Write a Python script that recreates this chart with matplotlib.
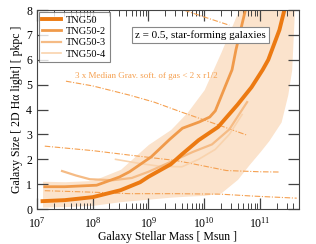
import numpy as np
import matplotlib
matplotlib.use('Agg')
import matplotlib.pyplot as plt

plt.rcParams['font.family'] = ['Liberation Serif', 'DejaVu Serif']
plt.rcParams['mathtext.fontset'] = 'stix'

# log10 stellar mass -> size [pkpc]
m_tng50 = [7.1, 7.5, 8.0, 8.5, 8.85, 9.0, 9.4, 9.6, 9.9, 10.25, 10.6, 10.85, 11.05, 11.15, 11.35, 11.45]
r_tng50 = [0.32, 0.36, 0.48, 0.76, 1.08, 1.3, 1.8, 2.2, 2.77, 3.3, 4.2, 4.9, 5.6, 6.0, 7.2, 8.1]

m_tng50_2 = [7.14, 7.5, 8.07, 8.48, 8.66, 9.05, 9.38, 9.61, 9.91, 10.1, 10.2, 10.39, 10.5, 10.57, 10.75]
r_tng50_2 = [0.9, 0.9, 0.96, 1.29, 1.5, 2.1, 2.8, 3.25, 3.5, 3.7, 3.95, 5.0, 5.6, 6.4, 8.1]

m_tng50_3 = [7.45, 7.7, 7.95, 8.36, 8.7, 9.0, 9.4, 9.8, 10.14, 10.45, 10.77]
r_tng50_3 = [1.53, 1.35, 1.2, 1.16, 1.25, 1.5, 1.9, 2.3, 2.6, 3.2, 4.3]

m_tng50_4 = [8.41, 8.8, 9.2, 9.6, 9.9, 10.2, 10.45, 10.68]
r_tng50_4 = [2.0, 1.85, 1.72, 1.7, 2.0, 2.4, 3.0, 3.8]

# 1-sigma band of TNG50
m_band = [7.1, 7.5, 8.0, 8.5, 9.0, 9.4, 9.7, 10.0, 10.3, 10.6, 10.8, 11.0, 11.16, 11.38, 11.5, 11.57, 11.62]
r_band_lo = [0.08, 0.1, 0.15, 0.3, 0.4, 0.48, 0.52, 0.55, 0.65, 1.2, 1.77, 2.3, 2.75, 3.5, 4.6, 5.6, 8.0]
r_band_hi = [1.12, 1.1, 1.15, 1.6, 2.6, 3.2, 3.9, 4.8, 6.3, 7.9, 9.0, 9.0, 9.0, 9.0, 9.0, 9.0, 9.0]

# softening lines
m_soft1 = [7.52, 8.0, 8.66, 9.1, 9.59, 10.27, 10.77]
r_soft1 = [5.14, 4.95, 4.58, 4.3, 3.9, 3.37, 2.97]
m_soft2 = [9.3, 9.59, 10.0, 10.45]
r_soft2 = [8.25, 8.03, 7.72, 7.39]
m_soft3 = [7.14, 8.0, 8.66, 9.5, 9.91, 10.4, 11.0, 11.34]
r_soft3 = [2.53, 2.35, 2.17, 1.95, 1.77, 1.55, 1.5, 1.49]
m_soft4 = [7.14, 8.0, 8.66, 9.5, 10.3, 10.9, 11.66]
r_soft4 = [0.74, 0.68, 0.62, 0.62, 0.6, 0.52, 0.44]

c1 = '#ec7a12'
c2 = '#f09a4a'
c3 = '#f5bb85'
c4 = '#f9d3ad'
cband = '#fbe3cc'
csoft = '#f5a050'

fig = plt.figure(figsize=(3.16, 2.44), dpi=100)
ax = fig.add_axes([0.117, 0.143, 0.829, 0.816])

ax.fill_between(10**np.array(m_band), r_band_lo, r_band_hi, color=cband, lw=0)

dd = (5, 1.5, 1, 1.5)
for m, r in [(m_soft1, r_soft1), (m_soft2, r_soft2), (m_soft3, r_soft3), (m_soft4, r_soft4)]:
    ax.plot(10**np.array(m), r, color=csoft, lw=0.8, dashes=dd)

ax.plot(10**np.array(m_tng50_4), r_tng50_4, color=c4, lw=1.2, label='TNG50-4')
ax.plot(10**np.array(m_tng50_3), r_tng50_3, color=c3, lw=1.6, label='TNG50-3')
ax.plot(10**np.array(m_tng50_2), r_tng50_2, color=c2, lw=2.0, label='TNG50-2')
ax.plot(10**np.array(m_tng50), r_tng50, color=c1, lw=2.8, label='TNG50')

ax.text(10**7.68, 5.2, '3 x Median Grav. soft. of gas < 2 x r1/2', color=csoft,
        fontsize=6.5, va='bottom', ha='left')

ax.text(10**9.93, 7.0, 'z = 0.5, star-forming galaxies', fontsize=8, ha='center', va='center',
        bbox=dict(facecolor='white', edgecolor='#888888', lw=0.8, boxstyle='square,pad=0.3'))

ax.set_xscale('log')
ax.set_xlim(1e7, 10**11.7)
ax.set_ylim(0, 8)
ax.set_yticks(range(0, 9))
ax.set_xlabel('Galaxy Stellar Mass [ Msun ]', fontsize=8.5, labelpad=0)
ax.set_ylabel('Galaxy Size [ 2D H\u03b1 light] [ pkpc ]', fontsize=8.5, labelpad=2)

for s in ax.spines.values():
    s.set_color('#444444')
ax.tick_params(which='both', direction='in', top=True, right=True, colors='#444444',
               labelcolor='black', labelsize=8.5)
ax.tick_params(which='major', length=8, width=0.9)
ax.tick_params(which='minor', length=4, width=0.7)
ax.tick_params(axis='x', which='major', pad=5)

h, l = ax.get_legend_handles_labels()
leg = ax.legend(h[::-1], l[::-1], loc='upper left', fontsize=7.5, frameon=True, fancybox=False,
                borderaxespad=0.2, handlelength=1.8, labelspacing=0.2, borderpad=0.3,
                handletextpad=0.5)
leg.get_frame().set_edgecolor('#666666')
leg.get_frame().set_linewidth(0.8)

fig.savefig('out.png', dpi=100)
